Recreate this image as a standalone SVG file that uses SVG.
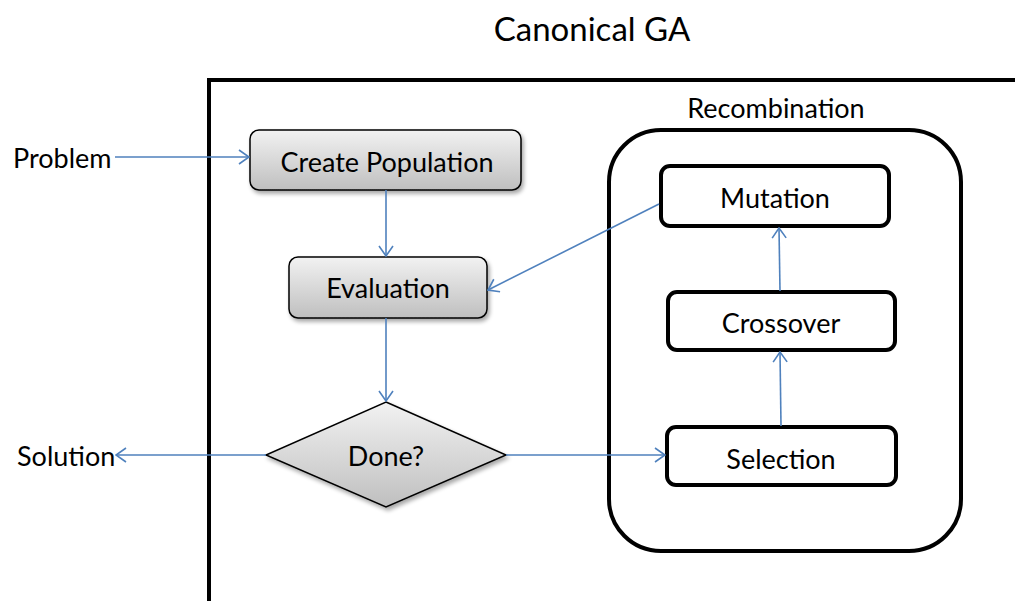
<svg xmlns="http://www.w3.org/2000/svg" width="1015" height="601" viewBox="0 0 1015 601">
  <defs>
    <linearGradient id="gray" x1="0" y1="0" x2="0" y2="1">
      <stop offset="0" stop-color="#f2f2f2"/>
      <stop offset="1" stop-color="#bfbfbf"/>
    </linearGradient>
    <filter id="shadow" x="-10%" y="-10%" width="125%" height="135%">
      <feGaussianBlur in="SourceAlpha" stdDeviation="2"/>
      <feOffset dx="2" dy="3" result="b"/>
      <feComponentTransfer><feFuncA type="linear" slope="0.35"/></feComponentTransfer>
      <feMerge><feMergeNode/><feMergeNode in="SourceGraphic"/></feMerge>
    </filter>
    <marker id="arrow" viewBox="0 0 12 16" refX="11" refY="8" markerWidth="12" markerHeight="16" markerUnits="userSpaceOnUse" orient="auto">
      <path d="M1,1 L11,8 L1,15" fill="none" stroke="#4f81bd" stroke-width="1.6"/>
    </marker>
  </defs>
  <style>
    text { font-family: Lato, "Open Sans", sans-serif; fill: #000; }
    .lbl { font-size: 27px; }
    .title { font-size: 33px; }
    .proc { fill: url(#gray); stroke: #000; stroke-width: 1.5; filter: url(#shadow); }
    .step { fill: #fff; stroke: #000; stroke-width: 4; }
    .frame { fill: none; stroke: #000; stroke-width: 4; }
    .conn line { stroke: #4f81bd; stroke-width: 1.6; marker-end: url(#arrow); }
  </style>

  <text class="title" x="592" y="41" text-anchor="middle">Canonical GA</text>

  <!-- outer algorithm boundary, runs off the page right and bottom -->
  <path class="frame" d="M209,603 V80 H1020"/>

  <g id="recombination">
    <rect class="frame" x="609" y="130" width="352" height="421" rx="52"/>
    <text class="lbl" x="776" y="118" text-anchor="middle">Recombination</text>
  </g>

  <g id="problem"><text class="lbl" x="13" y="168">Problem</text></g>
  <g id="solution"><text class="lbl" x="17" y="466">Solution</text></g>

  <g id="create-population">
    <rect class="proc" x="250" y="130" width="271" height="60" rx="9"/>
    <text class="lbl" x="387" y="172" text-anchor="middle">Create Population</text>
  </g>
  <g id="evaluation">
    <rect class="proc" x="289" y="257" width="198" height="61" rx="9"/>
    <text class="lbl" x="388" y="298" text-anchor="middle">Evaluation</text>
  </g>
  <g id="done">
    <polygon class="proc" points="386,402 506,455 386,507 266,455"/>
    <text class="lbl" x="386" y="466" text-anchor="middle">Done?</text>
  </g>

  <g id="mutation">
    <rect class="step" x="661" y="166" width="228" height="60" rx="9"/>
    <text class="lbl" x="775" y="208" text-anchor="middle">Mutation</text>
  </g>
  <g id="crossover">
    <rect class="step" x="668" y="292" width="227" height="58" rx="9"/>
    <text class="lbl" x="781" y="333" text-anchor="middle">Crossover</text>
  </g>
  <g id="selection">
    <rect class="step" x="667" y="427" width="229" height="58" rx="9"/>
    <text class="lbl" x="781" y="469" text-anchor="middle">Selection</text>
  </g>

  <g class="conn" id="connectors">
    <line x1="115" y1="157" x2="249" y2="157"/>
    <line x1="386" y1="190" x2="386" y2="256"/>
    <line x1="659" y1="204" x2="488" y2="290"/>
    <line x1="386" y1="318" x2="386" y2="401"/>
    <line x1="266" y1="455" x2="116" y2="455"/>
    <line x1="506" y1="455" x2="665" y2="455"/>
    <line x1="781" y1="426" x2="780" y2="352"/>
    <line x1="780" y1="291" x2="779" y2="228"/>
  </g>
</svg>
